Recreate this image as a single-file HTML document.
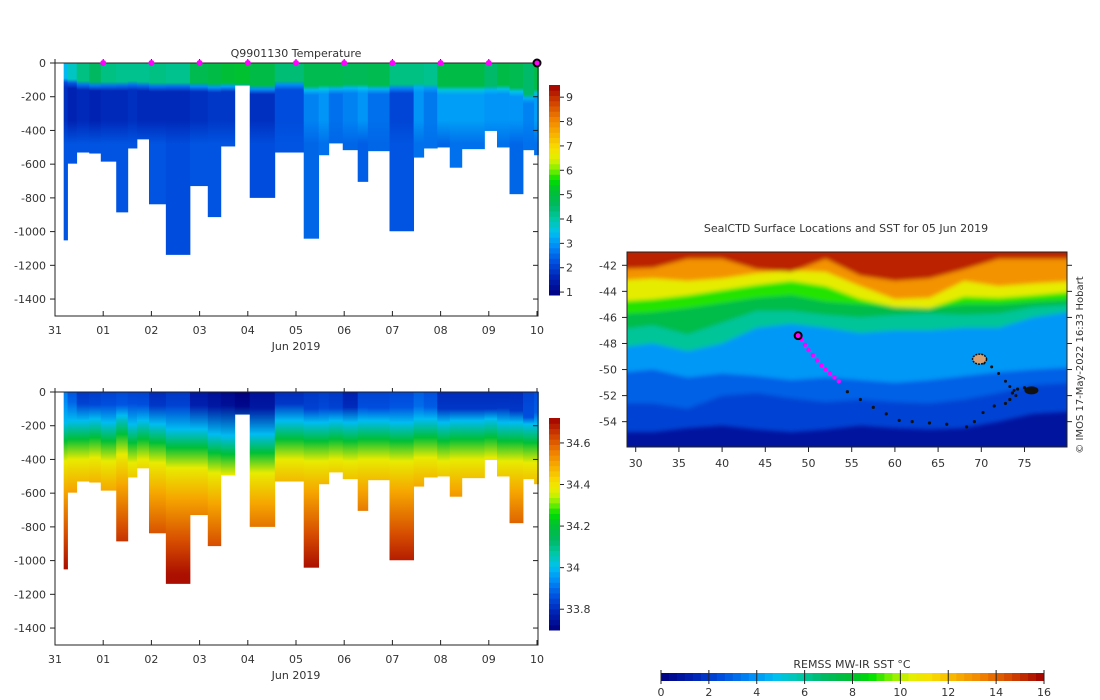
<!DOCTYPE html>
<html><head><meta charset="utf-8">
<style>
body{margin:0;background:#fff;}
svg{display:block;font-family:"DejaVu Sans","Liberation Sans",sans-serif;}
text{fill:#333;font-size:11px;}
</style></head>
<body>
<svg id="fig" width="1100" height="700" viewBox="0 0 1100 700" xmlns="http://www.w3.org/2000/svg">
<defs id="defs">
<filter id="blur" x="-5%" y="-5%" width="110%" height="110%"><feGaussianBlur stdDeviation="2.2"/></filter>
<clipPath id="mapclip"><rect x="627" y="252" width="440" height="195"/></clipPath>
</defs>
<g id="tempPanel"></g>
<g id="salPanel"></g>
<g id="mapPanel"></g>
<text x="296" y="57" text-anchor="middle">Q9901130  Temperature</text>
<text x="846" y="232" text-anchor="middle">SealCTD Surface Locations and SST for 05 Jun 2019</text>
<text transform="translate(1083,365) rotate(-90)" text-anchor="middle" style="font-size:10px">© IMOS 17-May-2022 16:33 Hobart</text>
<text x="852" y="668" text-anchor="middle">REMSS MW-IR SST °C</text>
</svg>
<script>
// ---------- data ----------
const dayTickLabels = ["31","01","02","03","04","05","06","07","08","09","10"];
const depthTicks = [0,-200,-400,-600,-800,-1000,-1200,-1400];
const profileEdges = [0.18,0.26,0.45,0.71,0.95,1.27,1.51,1.70,1.95,2.30,2.80,3.17,3.44,3.73,4.04,4.56,5.16,5.47,5.68,5.97,6.28,6.49,6.94,7.44,7.65,7.93,8.19,8.44,8.91,9.17,9.43,9.71,9.94,10.03];
const maxDepth = [1052,597,531,537,585,886,507,453,838,1138,730,914,495,134,800,531,1042,547,477,517,705,523,998,561,507,501,621,511,403,501,778,517,547];
const surfaceTemp = [3.4,3.8,4.3,4.6,4.3,4.2,4.2,4.2,4.3,4.2,4.8,4.9,5.1,5.2,4.9,4.4,4.8,4.8,4.8,4.7,4.7,4.8,4.3,4.3,4.2,4.9,4.9,4.9,4.5,4.9,4.8,4.5,4.9];
const mixedDepth = [105,110,120,125,125,125,120,125,130,130,130,135,130,134,145,120,150,145,145,140,140,145,140,135,140,150,150,150,150,145,160,200,170];
const coreTemp = [1.8,1.6,1.7,1.6,1.7,1.7,1.8,1.7,1.7,1.7,1.8,1.9,1.9,1.9,1.8,2.2,2.8,3.0,2.6,2.8,3.0,2.6,2.1,3.0,2.7,3.1,3.1,3.1,3.0,3.0,3.0,2.8,3.1];
const deepTemp = [2.3,2.3,2.3,2.3,2.3,2.3,2.3,2.3,2.3,2.2,2.3,2.3,2.3,2.3,2.2,2.3,2.5,2.6,2.5,2.5,2.4,2.5,2.3,2.6,2.6,2.5,2.6,2.6,2.6,2.6,2.5,2.6,2.6];
const surfaceSal = [33.92,33.87,33.82,33.83,33.84,33.85,33.84,33.84,33.80,33.82,33.76,33.74,33.72,33.70,33.74,33.80,33.82,33.83,33.82,33.78,33.84,33.84,33.85,33.88,33.86,33.80,33.80,33.80,33.80,33.80,33.80,33.84,33.86];
const haloDepth = [290,280,280,270,290,250,300,280,300,330,330,360,370,360,360,280,290,290,280,290,280,280,290,270,270,290,280,280,270,290,290,300,300];
const tempTicks = [1,2,3,4,5,6,7,8,9];
const salTicks = [33.8,34,34.2,34.4,34.6];
const sstTicks = [0,2,4,6,8,10,12,14,16];
const mapLonTicks = [30,35,40,45,50,55,60,65,70,75];
const mapLatTicks = [-42,-44,-46,-48,-50,-52,-54];
const isoLons = [27,32,36,40,44,48,52,56,60,64,68,72,76,81];
const isoLevels = [2.2,2.9,4.0,6.0,7.4,9.0,10.6,13.0,15.3];
const isoLats = [
 [-54.8,-54.8,-54.5,-54.3,-54.6,-54.8,-54.6,-54.3,-54.5,-54.6,-54.5,-54.0,-53.4,-53.2],
 [-52.6,-52.6,-53.0,-52.0,-51.8,-52.2,-52.5,-52.3,-52.5,-52.6,-52.3,-51.8,-51.2,-51.0],
 [-50.3,-50.0,-50.6,-50.3,-50.5,-50.8,-50.6,-50.8,-51.0,-50.8,-50.5,-50.2,-50.0,-49.8],
 [-48.4,-48.0,-48.6,-48.0,-46.8,-46.5,-46.8,-47.2,-47.0,-47.0,-46.8,-46.8,-46.0,-45.5],
 [-47.0,-46.6,-47.3,-46.4,-45.5,-45.5,-45.8,-46.0,-45.8,-45.7,-45.8,-45.7,-45.2,-45.0],
 [-45.8,-45.6,-45.3,-44.9,-44.5,-44.3,-44.8,-45.0,-45.2,-45.3,-45.0,-45.0,-44.8,-44.6],
 [-44.8,-44.6,-44.3,-43.9,-43.5,-43.2,-43.6,-44.6,-45.2,-45.3,-44.4,-44.5,-44.3,-44.0],
 [-43.2,-43.0,-43.2,-43.0,-42.6,-42.4,-42.5,-43.6,-44.6,-44.5,-43.2,-43.6,-43.4,-43.2],
 [-42.3,-42.2,-41.5,-41.5,-42.3,-42.5,-41.5,-42.8,-43.2,-43.0,-42.3,-41.5,-41.5,-41.5]
];
const trackLon = [48.8,49.2,49.6,50.0,50.5,51.0,51.5,52.0,52.5,53.0,53.5,54.5,56,57.5,59,60.5,62,64,66,68.3,69.2,70.2,71.5,72.8,73.3,73.6,74.2,75.0,75.7];
const trackLat = [-47.4,-47.7,-48.1,-48.5,-48.9,-49.3,-49.7,-50.0,-50.3,-50.6,-50.9,-51.7,-52.3,-52.9,-53.4,-53.9,-54.0,-54.1,-54.2,-54.4,-54.0,-53.3,-52.8,-52.6,-52.3,-51.8,-51.5,-51.4,-51.5];
const northLon = [69.5,70.3,71.2,72.0,72.8,73.3,73.8,74.0];
const northLat = [-49.2,-49.5,-49.8,-50.3,-50.9,-51.3,-51.6,-52.0];

// ---------- helpers ----------
const NS="http://www.w3.org/2000/svg";
const svg=document.getElementById('fig');
const defs=document.getElementById('defs');
function mk(tag,attrs,parent){const e=document.createElementNS(NS,tag);for(const k in attrs)e.setAttribute(k,attrs[k]);(parent||svg).appendChild(e);return e;}
const cstops=[[0,'#000080'],[0.08,'#0020b0'],[0.16,'#0050e0'],[0.24,'#0090f8'],[0.3,'#00c0f0'],[0.36,'#00c8a8'],[0.43,'#00b860'],[0.5,'#00c030'],[0.55,'#00e000'],[0.6,'#80f000'],[0.65,'#e0f000'],[0.7,'#f8e000'],[0.77,'#f8b000'],[0.84,'#f08000'],[0.92,'#d04000'],[1,'#a00000']];
function hx(c){return [parseInt(c.substr(1,2),16),parseInt(c.substr(3,2),16),parseInt(c.substr(5,2),16)];}
function cmap(f){f=Math.max(0,Math.min(1,f));for(let i=1;i<cstops.length;i++){if(f<=cstops[i][0]){const a=cstops[i-1],b=cstops[i];const t=(f-a[0])/(b[0]-a[0]);const A=hx(a[1]),B=hx(b[1]);return 'rgb('+A.map((v,j)=>Math.round(v+(B[j]-v)*t)).join(',')+')';}}return cstops[cstops.length-1][1];}
const xDay=d=>55+d*48.2;

function drawSection(g,yTop,mkStops,cbMin,cbMax,cbTicks,cbFmt,prefix,markers){
  const yD=d=>yTop+d*0.1686;
  const yBot=yTop+253;
  for(let i=0;i<maxDepth.length;i++){
    const gid=prefix+'g'+i;
    const lg=mk('linearGradient',{id:gid,gradientUnits:'userSpaceOnUse',x1:0,y1:yD(0),x2:0,y2:yD(1500)},defs);
    mkStops(i).forEach(s=>mk('stop',{offset:Math.max(0,Math.min(1,s[0]/1500)),'stop-color':cmap((s[1]-cbMin)/(cbMax-cbMin))},lg));
    const x0=xDay(profileEdges[i]),x1=xDay(profileEdges[i+1]);
    const r=mk('rect',{x:x0,y:yD(0),width:x1-x0+0.4,height:yD(maxDepth[i])-yD(0),fill:'url(#'+gid+')'},g);
    
    
  }
  const box=mk('rect',{x:55,y:yD(0),width:483,height:yBot-yD(0),fill:'none',stroke:'#222','stroke-width':1},g);
  
  
  depthTicks.forEach(t=>{
    const y=yD(-t);
    mk('line',{x1:50,x2:55,y1:y,y2:y,stroke:'#222'},g);
    mk('line',{x1:533,x2:538,y1:y,y2:y,stroke:'#222'},g);
    const tx=mk('text',{x:46,y:y+4,'text-anchor':'end'},g);tx.textContent=t;
    
    
  });
  dayTickLabels.forEach((lab,i)=>{
    const x=xDay(i);
    mk('line',{x1:x,x2:x,y1:yBot,y2:yBot-5,stroke:'#222'},g);
    mk('line',{x1:x,x2:x,y1:yD(0),y2:yD(0)-4,stroke:'#222'},g);
    const tx=mk('text',{x:x,y:yBot+18,'text-anchor':'middle'},g);tx.textContent=lab;
    
    
  });
  const xl=mk('text',{x:296,y:yBot+34,'text-anchor':'middle'},g);xl.textContent='Jun 2019';
  
  
  const cbTop=prefix==='temp'?85:418, cbBot=prefix==='temp'?295:630;
  const cy=v=>cbBot-(v-cbMin)/(cbMax-cbMin)*(cbBot-cbTop);
  const cg=mk('g',{},g);
  
  
  const N=40;
  for(let k=0;k<N;k++){
    const f0=k/N;
    mk('rect',{x:549,y:cbBot-(k+1)/N*(cbBot-cbTop),width:11,height:(cbBot-cbTop)/N+0.5,fill:cmap(f0+0.5/N)},cg);
  }
  cbTicks.forEach(v=>{
    const y=cy(v);
    mk('line',{x1:560,x2:564,y1:y,y2:y,stroke:'#222'},cg);
    const tx=mk('text',{x:566,y:y+4},cg);tx.textContent=cbFmt(v);
    
    
  });
  if(markers){
    for(let d=1;d<=9;d++){
      const c=mk('circle',{cx:xDay(d),cy:yD(0),r:3,fill:'#ff00ff'},g);
      
      
    }
    const c=mk('circle',{cx:xDay(10),cy:yD(0),r:3.5,fill:'#ff00ff',stroke:'#000','stroke-width':2},g);
    
    
  }
}

drawSection(document.getElementById('tempPanel'),63,i=>{
  const m=mixedDepth[i];
  return [[0,surfaceTemp[i]],[m-15,surfaceTemp[i]],[m+10,(surfaceTemp[i]+coreTemp[i])/2-0.4],[m+40,coreTemp[i]],[340,coreTemp[i]],[480,deepTemp[i]],[1500,deepTemp[i]]];
},0.88,9.5,tempTicks,v=>String(v),'temp',true);

drawSection(document.getElementById('salPanel'),392,i=>{
  const h=haloDepth[i],s=surfaceSal[i],m=Math.min(mixedDepth[i]-20,h-120);
  return [[0,s],[Math.max(20,m-30),s+0.02],[h-110,34.0],[h,34.2],[h+120,34.38],[h+300,34.5],[h+550,34.62],[h+750,34.7],[1500,34.72]];
},33.7,34.72,salTicks,v=>String(Math.round(v*10)/10),'sal',false);

// ---------- map ----------
const mp=document.getElementById('mapPanel');
const xLon=l=>635.7+(l-30)*8.64;
const yLat=l=>265.3+(-42-l)*13.03;
const mg=mk('g',{'clip-path':'url(#mapclip)'},mp);


mk('rect',{x:620,y:245,width:460,height:210,fill:cmap(0.8/16)},mg);
const bl=mk('g',{filter:'url(#blur)'},mg);
isoLevels.forEach((lev,k)=>{
  let d='M'+xLon(isoLons[0])+','+(yLat(-38));
  isoLons.forEach((lo,j)=>{d+=' L'+xLon(lo)+','+yLat(isoLats[k][j]);});
  d+=' L'+xLon(isoLons[isoLons.length-1])+','+yLat(-38)+' Z';
  const p=mk('path',{d:d,fill:cmap(lev/16)},bl);
  
  
});
trackLon.forEach((lo,i)=>{
  const isM=i>0&&i<=10;
  const c=mk('circle',{cx:xLon(lo),cy:yLat(trackLat[i]),r:isM?2.2:1.6,fill:isM?'#ff00ff':'#111'},mp);
  
  
});
northLon.forEach((lo,i)=>{
  const c=mk('circle',{cx:xLon(lo),cy:yLat(northLat[i]),r:1.5,fill:'#111'},mp);
  
  
});
const isl=mk('ellipse',{cx:xLon(69.8),cy:yLat(-49.2),rx:7,ry:5,fill:'#d8a070',stroke:'#111','stroke-width':1.5,'stroke-dasharray':'2 1'},mp);


const hb=mk('ellipse',{cx:xLon(75.8),cy:yLat(-51.6),rx:7,ry:4,fill:'#111'},mp);


const last=mk('circle',{cx:xLon(48.8),cy:yLat(-47.4),r:3.5,fill:'#ff00ff',stroke:'#000','stroke-width':2},mp);


const mb=mk('rect',{x:627,y:252,width:440,height:195,fill:'none',stroke:'#222'},mp);


mapLonTicks.forEach(lo=>{
  const x=xLon(lo);
  mk('line',{x1:x,x2:x,y1:447,y2:452,stroke:'#222'},mp);
  const t=mk('text',{x:x,y:467,'text-anchor':'middle'},mp);t.textContent=lo;
  
  
});
mapLatTicks.forEach(la=>{
  const y=yLat(la);
  mk('line',{x1:622,x2:627,y1:y,y2:y,stroke:'#222'},mp);
  mk('line',{x1:1067,x2:1072,y1:y,y2:y,stroke:'#222'},mp);
  const t=mk('text',{x:617,y:y+4,'text-anchor':'end'},mp);t.textContent=la;
  
  
});
const sg=mk('g',{},mp);


const sx=v=>661+v/16*383;
for(let k=0;k<48;k++){
  mk('rect',{x:661+k*383/48,y:673,width:383/48+0.5,height:8,fill:cmap((k+0.5)/48)},sg);
}
sstTicks.forEach(v=>{
  const x=sx(v);
  mk('line',{x1:x,x2:x,y1:670,y2:684,stroke:'#222'},sg);
  const t=mk('text',{x:x,y:696,'text-anchor':'middle'},sg);t.textContent=v;
  
  
});
</script>
</body></html>
